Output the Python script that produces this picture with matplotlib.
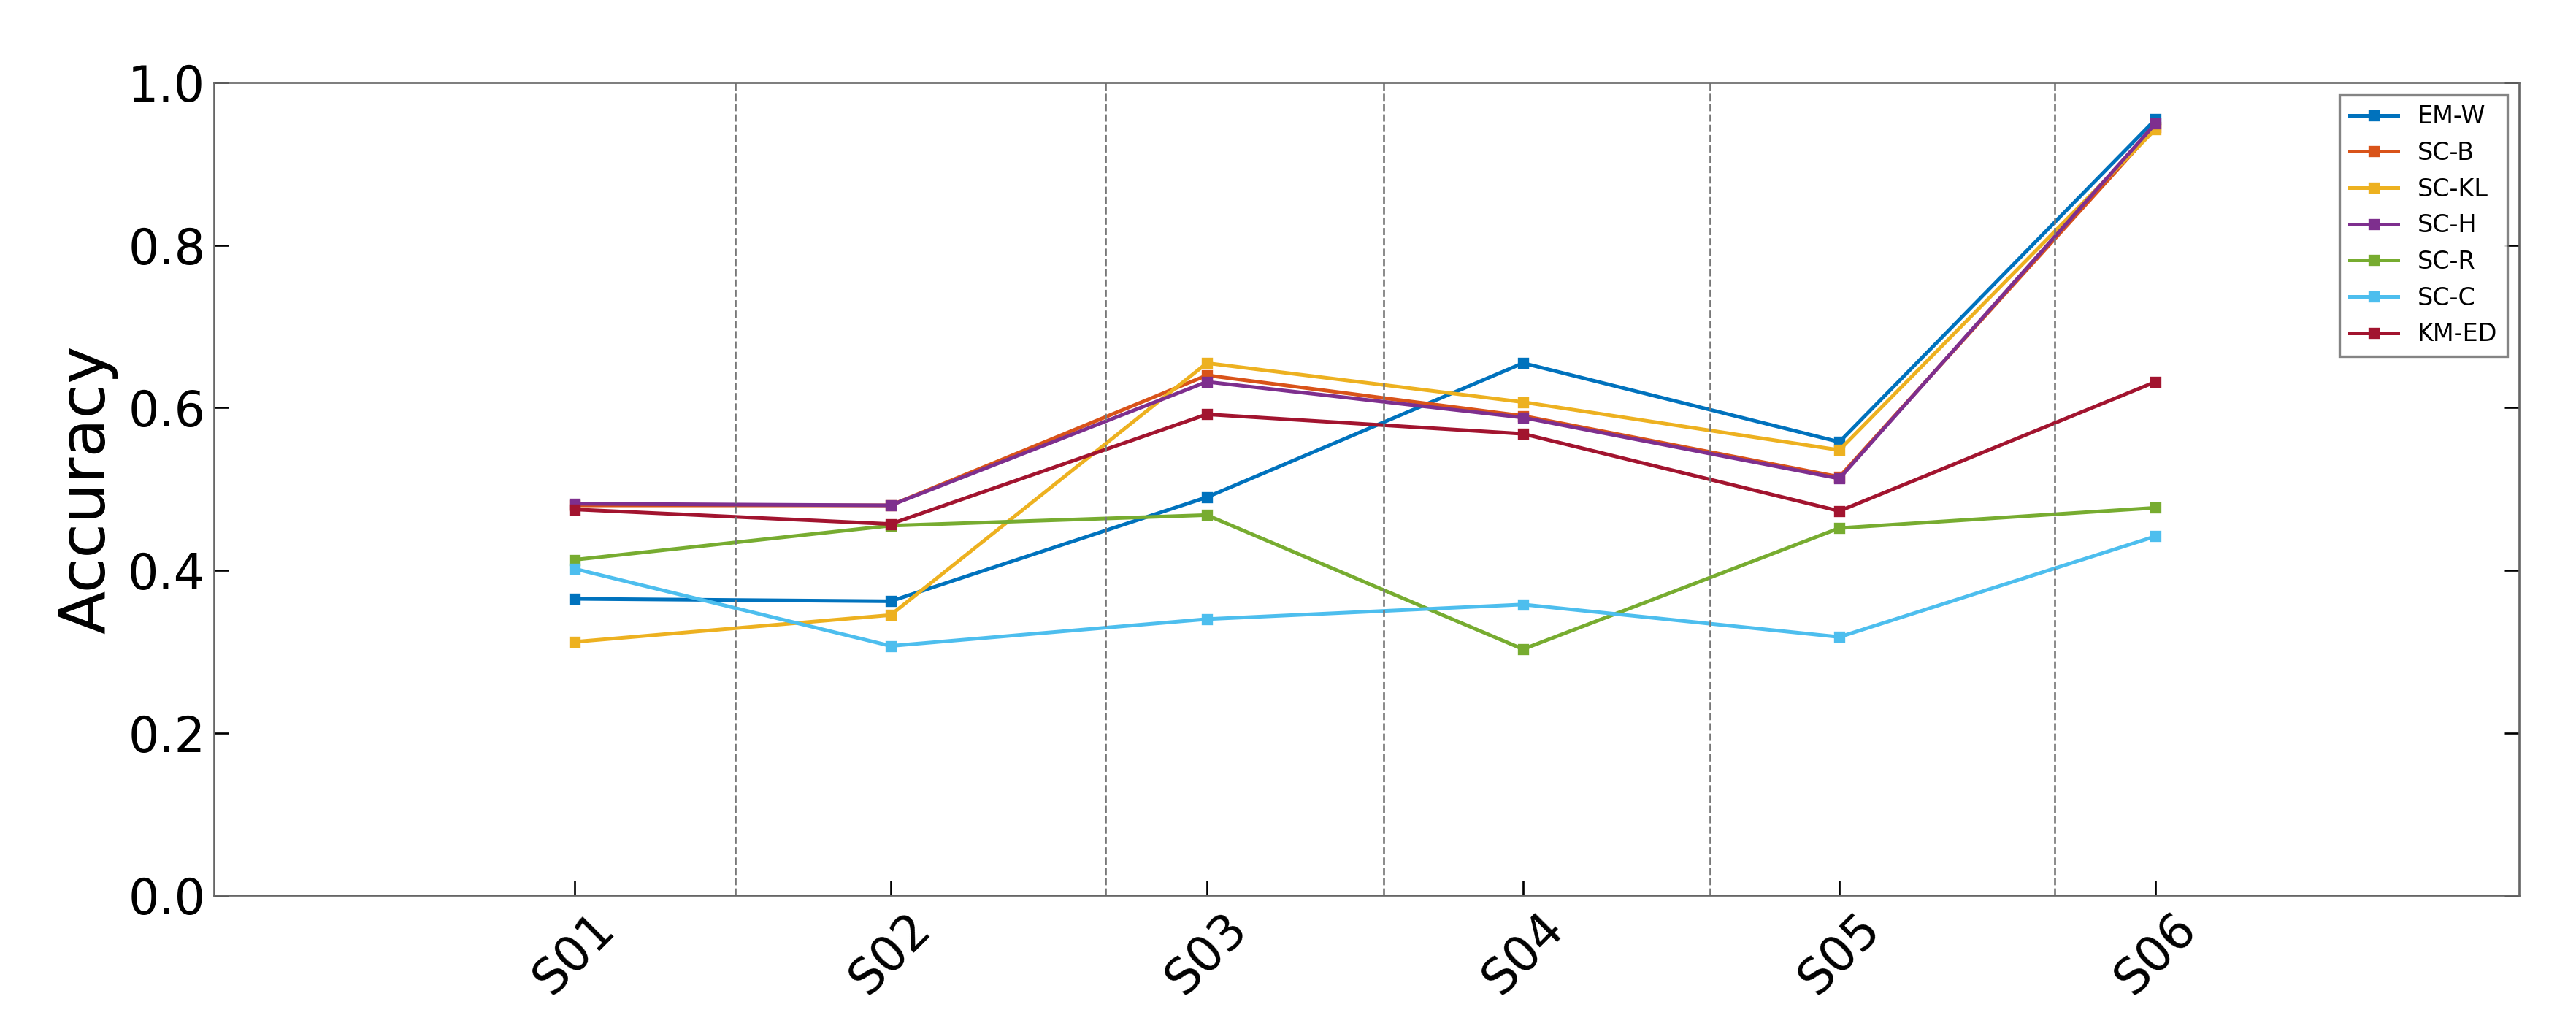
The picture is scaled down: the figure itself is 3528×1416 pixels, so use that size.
import matplotlib
matplotlib.use("Agg")
import matplotlib.pyplot as plt

subjects = ["S01", "S02", "S03", "S04", "S05", "S06"]
series_names = ["EM-W", "SC-B", "SC-KL", "SC-H", "SC-R", "SC-C", "KM-ED"]
em_w = [0.365, 0.362, 0.490, 0.655, 0.558, 0.955]
sc_b = [0.480, 0.480, 0.640, 0.590, 0.515, 0.945]
sc_kl = [0.312, 0.345, 0.655, 0.607, 0.548, 0.943]
sc_h = [0.482, 0.480, 0.632, 0.588, 0.513, 0.950]
sc_r = [0.413, 0.455, 0.468, 0.303, 0.452, 0.477]
sc_c = [0.402, 0.307, 0.340, 0.358, 0.318, 0.442]
km_ed = [0.475, 0.457, 0.592, 0.568, 0.473, 0.632]
dividers = [0.51, 1.68, 2.56, 3.59, 4.68]
colors = ["#0072BD", "#D95319", "#EDB120", "#7E2F8E", "#77AC30", "#4DBEEE", "#A2142F"]

fig = plt.figure(figsize=(14.7, 5.9), dpi=240)
ax = fig.add_axes([0.083, 0.134, 0.895, 0.786])
x = list(range(len(subjects)))
for name, vals, c in zip(series_names, [em_w, sc_b, sc_kl, sc_h, sc_r, sc_c, km_ed], colors):
    ax.plot(x, vals, color=c, lw=1.5, marker="s", ms=3.5, mfc=c, mec=c, label=name)
for d in dividers:
    ax.axvline(d, color="#777777", ls="--", lw=0.8)
ax.set_xlim(-1.14, 6.15)
ax.set_ylim(0, 1.0)
ax.set_xticks(x)
ax.set_xticklabels(subjects, rotation=45, fontsize=20)
ax.set_yticks([0, 0.2, 0.4, 0.6, 0.8, 1.0])
ax.set_yticklabels(["0.0", "0.2", "0.4", "0.6", "0.8", "1.0"], fontsize=20)
ax.tick_params(direction="in", right=True, top=False, length=6)
ax.set_ylabel("Accuracy", fontsize=26)
for s in ax.spines.values():
    s.set_color("#666666")
leg = ax.legend(loc="upper right", fontsize=10, frameon=True, fancybox=False,
                edgecolor="#666666", borderpad=0.4, handlelength=2.0)
fig.savefig("out.png", dpi=240)
